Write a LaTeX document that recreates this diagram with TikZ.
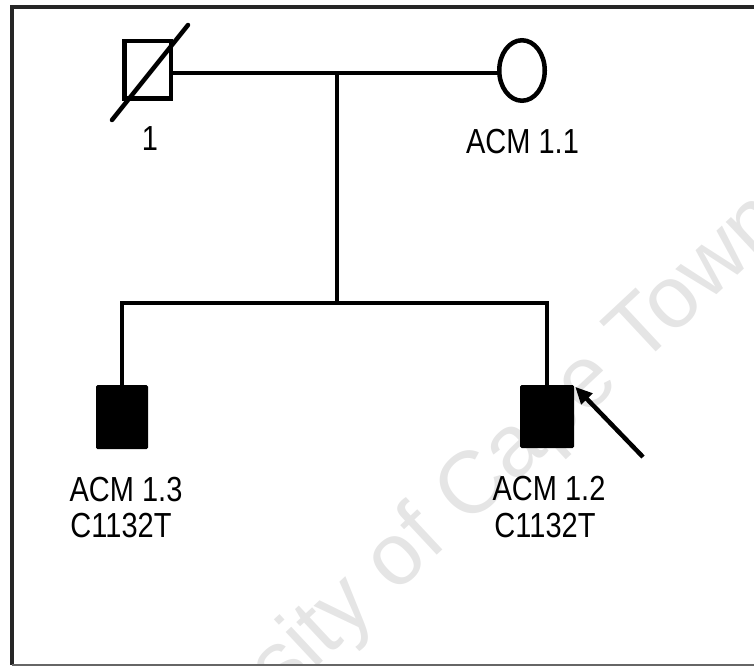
\documentclass[tikz,border=0pt]{standalone}
\usepackage{fontspec}
\setmainfont{Liberation Sans}
\usetikzlibrary{arrows.meta,shapes.geometric}
\begin{document}
\begin{tikzpicture}[x=1pt,y=-1pt,
  conn/.style={line width=4pt, black, line join=miter},
  symline/.style={line width=4.5pt, black},
  lbl/.style={anchor=base, inner sep=0pt, text=black, font=\fontsize{29}{30}\selectfont},
  wmark/.style={inner sep=0pt, text=black!10, font=\fontsize{88}{90}\selectfont},
]
\useasboundingbox (0,0) rectangle (754,666);
% watermark
\begin{scope}
  \clip (12,7) rectangle (754,665);
  \node[wmark, rotate=43] (wm) at (427,534) {University of Cape Town};
\end{scope}
% frame
\draw[line width=3.5pt, black!85] (754,7) -- (12,7) -- (12,665);
\draw[line width=1.5pt, black!60] (12,665) -- (754,665);
% parents
\node[draw, symline, minimum width=46.5pt, minimum height=57.5pt, inner sep=0pt] (f) at (147.5,70) {};
\draw[symline, line cap=round] ([shift={(-35.5,50)}]f.center) -- ([shift={(40.5,-45)}]f.center);
\node[draw, ellipse, symline, minimum width=45.5pt, minimum height=60.5pt, inner sep=0pt] (m) at (522,70.5) {};
% children
\node[fill=black, minimum width=52pt, minimum height=64pt, inner sep=0pt, rounded corners=1.5pt] (c1) at (122,417) {};
\node[fill=black, minimum width=54pt, minimum height=63pt, inner sep=0pt, rounded corners=1.5pt] (c2) at (547,416.5) {};
% connectors
\coordinate (mar) at (337,73.5);
\coordinate (sib) at (337,303);
\draw[conn] (f.east |- mar) -- (m.west |- mar);
\draw[conn] (mar) -- (sib);
\draw[conn] (c1.north) |- (sib) -| (c2.north);
% proband arrow
\coordinate (pt) at (643,457);
\draw[symline, -{Triangle[length=17pt,width=15pt]}] (pt) -- ([shift={(1,2)}]c2.north east);
% labels
\node[lbl] (l1) at (150,150) {\scalebox{1}[1.2]{1}};
\node[lbl] (lm) at (522.5,153) {\scalebox{1}[1.2]{ACM 1.1}};
\node[lbl] (lc1a) at (126,501) {\scalebox{1}[1.2]{ACM 1.3}};
\node[lbl] (lc1b) at (121,537) {\scalebox{1}[1.2]{C1132T}};
\node[lbl] (lc2a) at (549,500) {\scalebox{1}[1.2]{ACM 1.2}};
\node[lbl] (lc2b) at (545,537) {\scalebox{1}[1.2]{C1132T}};
\end{tikzpicture}
\end{document}
